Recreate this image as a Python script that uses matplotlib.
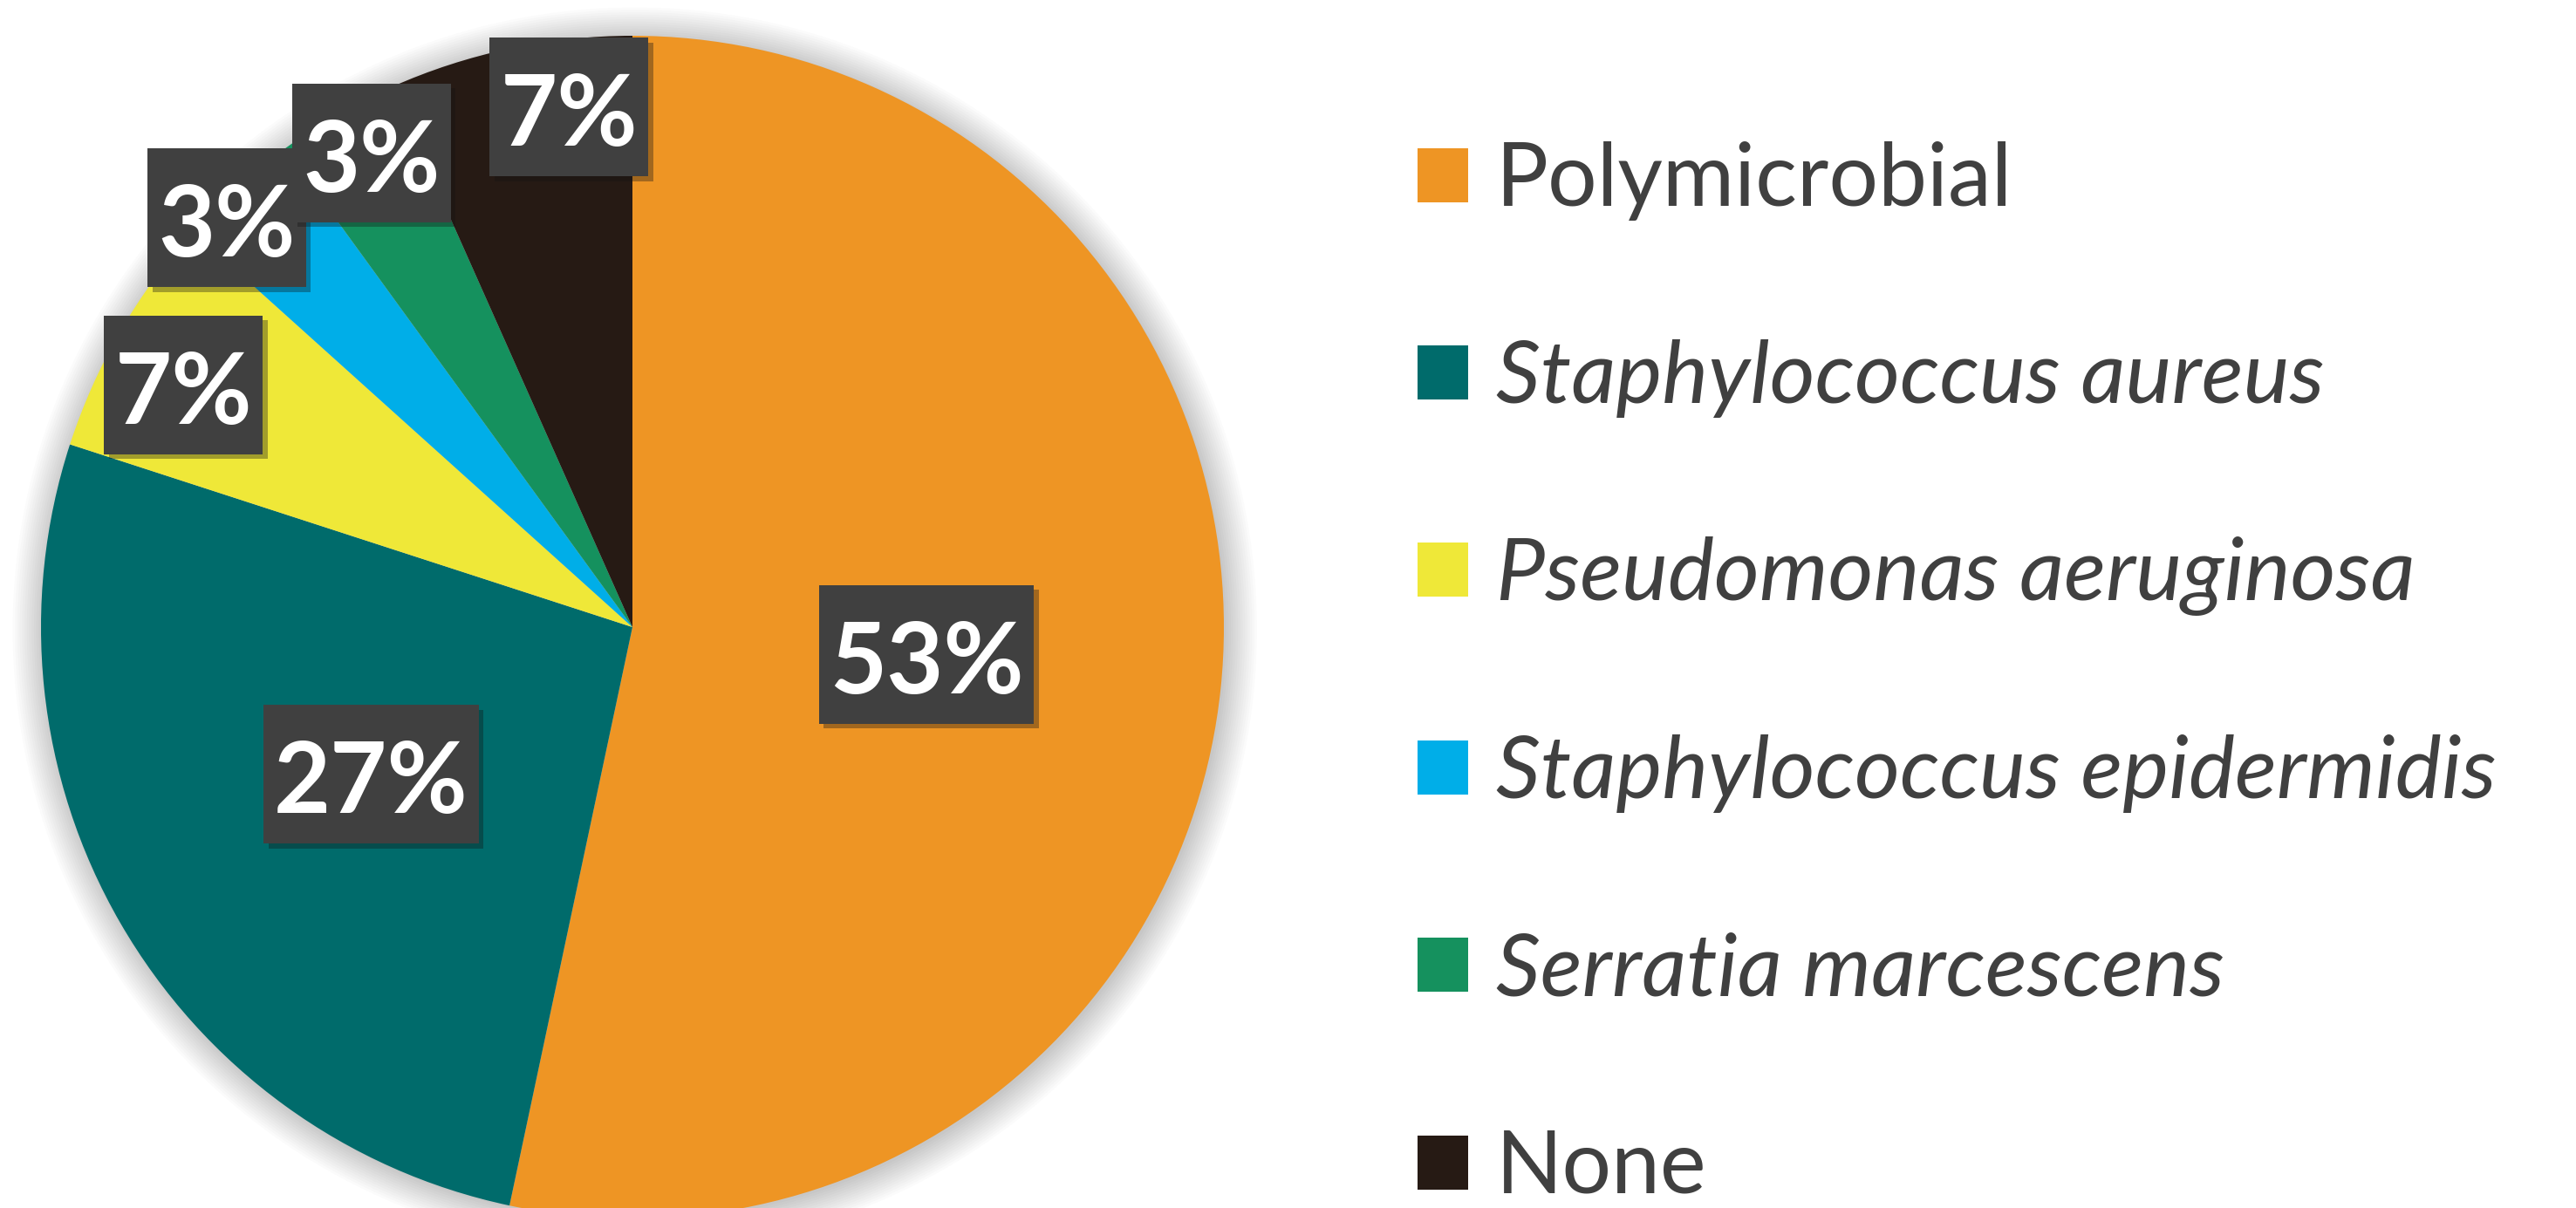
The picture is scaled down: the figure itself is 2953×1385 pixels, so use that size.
import matplotlib
matplotlib.use("Agg")
import matplotlib.pyplot as plt
import matplotlib.patheffects as pe
from matplotlib.patches import Circle, Rectangle
import numpy as np

plt.rcParams['font.family'] = ['Lato', 'DejaVu Sans']

# data: isolates per organism (n = 30)
labels = ["Polymicrobial", "Staphylococcus aureus", "Pseudomonas aeruginosa",
          "Staphylococcus epidermidis", "Serratia marcescens", "None"]
counts = [16, 8, 2, 1, 1, 2]
italic = [False, True, True, True, True, False]
colors = ['#EE9524', '#006B6B', '#EFE838', '#00AEE8', '#15915E', '#261A14']

# radial position of each percentage box (fraction of radius)
label_r = [0.50, 0.51, 0.86, 0.97, 0.91, 0.88]
label_shift = [0, 0, 2, 3, -1, -5]  # degrees

W, H = 2953, 1385
fig = plt.figure(figsize=(W / 100, H / 100), dpi=100)
ax = fig.add_axes([0, 0, 1, 1])

# pie geometry in pixels
cx, cy, rad = 725, 719, 678

# soft shadow behind the pie
for i in range(14):
    ax.add_patch(Circle((0.004, -0.004), 1 + 0.004 * i, color='black',
                        alpha=0.016, lw=0, zorder=0))

wedges, _ = ax.pie(counts, colors=colors, startangle=90, counterclock=False,
                   radius=1, wedgeprops=dict(linewidth=0, zorder=1))

ax.set_xlim(-cx / rad, (W - cx) / rad)
ax.set_ylim(-(H - cy) / rad, cy / rad)
ax.set_aspect('equal', adjustable='box')
ax.axis('off')

# percentage labels on dark boxes
fs = 81
em = fs * 100 / 72 / rad          # em size in data units
box_h = 159 / rad
hpad = 12 / rad
total = sum(counts)
texts = []
for w, n, r, sh in zip(wedges, counts, label_r, label_shift):
    ang = np.deg2rad((w.theta1 + w.theta2) / 2 + sh)
    x, y = r * np.cos(ang), r * np.sin(ang)
    t = ax.text(x, y - 0.358 * em, f"{round(100 * n / total)}%",
                ha='center', va='baseline', fontsize=fs, fontweight='bold',
                color='white', zorder=5)
    texts.append((t, x, y))

fig.canvas.draw()
renderer = fig.canvas.get_renderer()
for t, x, y in texts:
    bb = t.get_window_extent(renderer).transformed(ax.transData.inverted())
    bw = bb.width + 2 * hpad
    box = Rectangle((x - bw / 2, y + 4 / rad - box_h / 2), bw, box_h,
                    fc='#404040', ec='none', zorder=4)
    box.set_path_effects([pe.SimplePatchShadow(offset=(4, -4), alpha=0.35),
                          pe.Normal()])
    ax.add_patch(box)

leg = fig.legend(wedges, labels, loc='upper left',
                 bbox_to_anchor=(1625 / W, 1 - 162 / H),
                 borderaxespad=0, borderpad=0,
                 fontsize=72, frameon=False, handlelength=0.58,
                 handleheight=0.58, handletextpad=0.32, labelspacing=1.36,
                 labelcolor='#404040')
for txt, it in zip(leg.get_texts(), italic):
    if it:
        txt.set_fontstyle('italic')

fig.savefig("out.png", dpi=100, facecolor='white')
